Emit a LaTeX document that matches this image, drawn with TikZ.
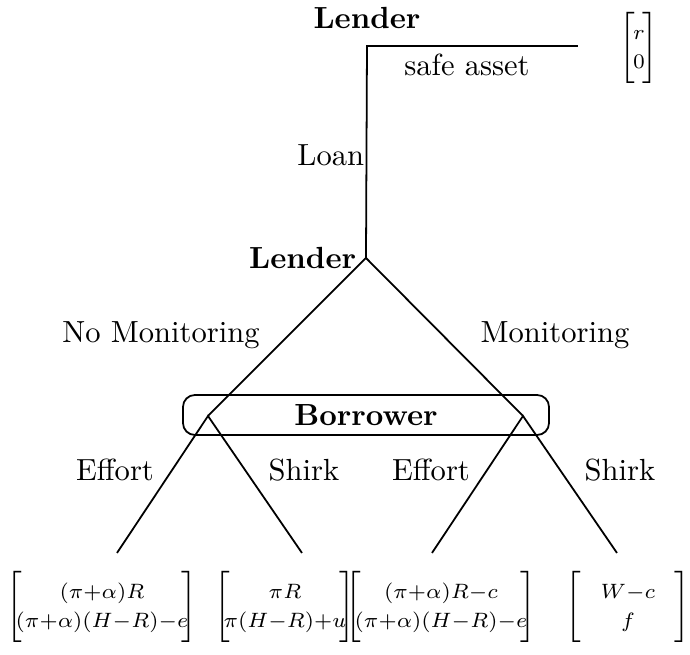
\documentclass[tikz,border=0pt]{standalone}
\newcommand\payvec[3]{$\left[\mkern-5mu\vrule height 11.5pt depth 11.5pt width 0pt\begin{array}{@{}c@{}}\makebox[#1]{$#2$}\\#3\end{array}\mkern-5mu\right]$}
\begin{document}
\begin{tikzpicture}[x=0.337pt,y=-0.337pt,line width=0.6pt,
  font=\fontsize{10.3}{12.4}\selectfont,
  player/.style={font=\fontsize{10.3}{12.4}\selectfont\bfseries,inner sep=0pt},
  move/.style={inner sep=0pt},
  payoff/.style={inner sep=0pt,font=\fontsize{7.4}{9.6}\selectfont}]
  \useasboundingbox (0,0) rectangle (690,655);
  % decision points
  \coordinate (root) at (367,46);
  \coordinate (safe) at (578,46);
  \coordinate (lend) at (366,258);
  \coordinate (bl) at (208,416);
  \coordinate (br) at (523,416);
  \coordinate (ll1) at (117,553);
  \coordinate (ll2) at (302,553);
  \coordinate (rl1) at (432,553);
  \coordinate (rl2) at (617,553);
  % players
  \node[player] (lender1) at (367,18) {Lender};
  \node[player,anchor=east] (lender2) at (357,258) {Lender};
  \draw[rounded corners=4pt] (183,395) rectangle (549,435);
  \node[player] (borrower) at (366,415) {Borrower};
  % branches
  \draw (safe) -- (root) -- (lend);
  \draw (bl) -- (lend) -- (br);
  \draw (ll1) -- (bl) -- (ll2);
  \draw (rl1) -- (br) -- (rl2);
  % moves
  \node[move] (safelab) at (467,65) {safe asset};
  \node[move,anchor=east] (loan) at (365,155) {Loan};
  \node[move] (nomon) at (161,335) {No Monitoring};
  \node[move] (mon) at (555,335) {Monitoring};
  \node[move] (eff1) at (115,470) {Effort};
  \node[move] (shk1) at (304,470) {Shirk};
  \node[move] (eff2) at (431,470) {Effort};
  \node[move] (shk2) at (620,470) {Shirk};
  % payoffs
  \node[payoff] (p0) at (639,50) {\payvec{7pt}{r}{0}};
  \node[payoff] (p1) at (102,609) {\payvec{0pt}{(\pi{+}\alpha)R}{(\pi{+}\alpha)(H{-}R){-}e}};
  \node[payoff] (p2) at (285,609) {\payvec{0pt}{\pi R}{\pi(H{-}R){+}u}};
  \node[payoff] (p3) at (441,609) {\payvec{0pt}{(\pi{+}\alpha)R{-}c}{(\pi{+}\alpha)(H{-}R){-}e}};
  \node[payoff] (p4) at (628,609) {\payvec{36pt}{W{-}c}{f}};
\end{tikzpicture}
\end{document}
